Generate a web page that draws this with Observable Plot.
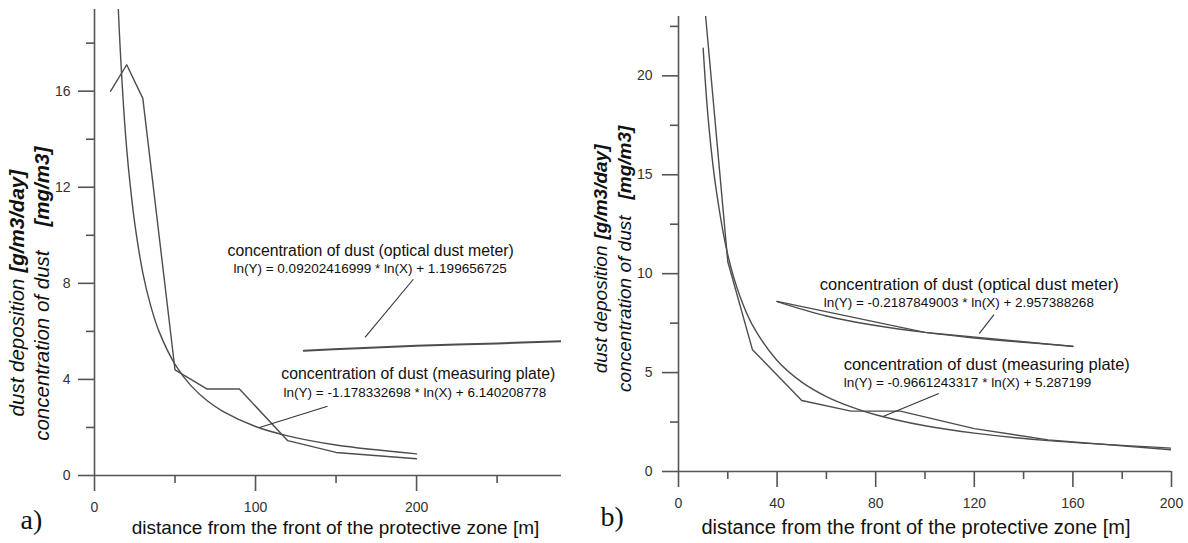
<!DOCTYPE html>
<html><head><meta charset="utf-8">
<script src="https://cdn.jsdelivr.net/npm/d3@7"></script>
<script src="https://cdn.jsdelivr.net/npm/@observablehq/plot@0.6"></script>
<style>
body{margin:0;background:#fff;}
#wrap{position:relative;width:1188px;height:543px;overflow:hidden;background:#fff;}
.panel{position:absolute;top:0;width:594px;height:543px;}
</style></head><body>
<div id="wrap"><div id="pa" class="panel" style="left:0"></div><div id="pb" class="panel" style="left:594px"></div></div>
<script>
// ---------- Panel a) ----------
const distPlateA = [10, 20, 30, 50, 70, 90, 120, 150, 200];
const plateA = [16, 17.1, 15.7, 4.4, 3.6, 3.6, 1.45, 0.96, 0.7];
const distFitA = [13, 14, 15, 16, 18, 20, 22, 25, 30, 35, 40, 50, 60, 70, 80, 100, 120, 150, 200];
const fitA = [22.6, 20.7, 19.1, 17.7, 15.4, 13.6, 12.2, 10.5, 8.44, 7.04, 6.01, 4.63, 3.73, 3.11, 2.66, 2.04, 1.65, 1.27, 0.90];
const distOptA = [130, 160, 200, 250, 290];
const optA = [5.19, 5.29, 5.40, 5.50, 5.59];
const xMajorA = [0, 100, 200];
const xMinorA = [50, 150, 250];
const yMajorA = [0, 4, 8, 12, 16];
const yMinorA = [2, 6, 10, 14, 18];
const leaderA = [[168, 5.75, 198, 8.17], [102.5, 2.0, 144.7, 2.88]];
const titleTextA = ["concentration of dust (optical dust meter)", "concentration of dust (measuring plate)"];
const titleXA = [82.6, 116];
const titleYA = [9.33, 4.21];
const eqTextA = ["ln(Y) = 0.09202416999 * ln(X) + 1.199656725", "ln(Y) = -1.178332698 * ln(X) + 6.140208778"];
const eqXA = [86.3, 117.4];
const eqYA = [8.63, 3.46];

// ---------- Panel b) ----------
const distPlateB = [10, 20, 30, 50, 70, 90, 120, 150, 200];
const plateB = [24.4, 10.6, 6.16, 3.59, 3.05, 3.05, 2.17, 1.6, 1.1];
const distFitB = [10, 12, 15, 20, 25, 30, 40, 50, 60, 70, 80, 100, 120, 150, 200];
const fitB = [21.4, 17.9, 14.5, 10.95, 8.83, 7.4, 5.61, 4.52, 3.79, 3.27, 2.87, 2.31, 1.94, 1.56, 1.18];
const distOptB = [40, 100, 160];
const optB = [8.6, 7.03, 6.32];
const distOptFitB = [40, 60, 80, 100, 120, 140, 160];
const optFitB = [8.59, 7.86, 7.38, 7.03, 6.75, 6.53, 6.34];
const xMajorB = [0, 40, 80, 120, 160, 200];
const xMinorB = [20, 60, 100, 140, 180];
const yMajorB = [0, 5, 10, 15, 20];
const yMinorB = [2.5, 7.5, 12.5, 17.5, 22.5];
const leaderB = [[122, 6.97, 128, 7.93], [83, 2.78, 105.6, 3.94]];
const titleTextB = ["concentration of dust (optical dust meter)", "concentration of dust (measuring plate)"];
const titleXB = [57.3, 67];
const titleYB = [9.44, 5.40];
const eqTextB = ["ln(Y) = -0.2187849003 * ln(X) + 2.957388268", "ln(Y) = -0.9661243317 * ln(X) + 5.287199"];
const eqXB = [58.9, 67];
const eqYB = [8.54, 4.49];

const xTitle = "distance from the front of the protective zone [m]";
const yTitle1 = ["dust deposition", "[g/m3/day]"];
const yTitle2 = ["concentration of dust", "[mg/m3]"];

const FONT = "'Liberation Sans', Arial, sans-serif";
const AX = "#555";
const LN = "#4d4d4d";

const pts = (xs, ys) => xs.map((x, i) => ({x, y: ys[i]}));

function panel(c) {
  const lineMarks = c.series.map(s => Plot.line(pts(s.xs, s.ys), {
    x: "x", y: "y", curve: s.curve, clip: true, stroke: LN, strokeWidth: s.w
  }));
  const yt = (txt, anchor, dx, dy, bold) => Plot.text([txt], {
    frameAnchor: "left", rotate: -90, textAnchor: anchor, lineAnchor: "middle",
    dx, dy, fontStyle: "italic", fontWeight: bold ? "bold" : "normal", fontSize: c.ytSize, fill: "#111"
  });
  return Plot.plot({
    width: 594, height: 543,
    marginLeft: c.ml, marginRight: c.mr, marginTop: c.mt, marginBottom: c.mb,
    x: {domain: c.xDomain, label: null},
    y: {domain: c.yDomain, label: null},
    style: {fontFamily: FONT, fontSize: "14px", color: "#333", background: "white", overflow: "visible"},
    marks: [
      Plot.ruleX([0], {stroke: AX, strokeWidth: 1.6}),
      Plot.ruleY([0], {stroke: AX, strokeWidth: 1.6}),
      Plot.axisY(c.yMajor, {tickSize: 16, tickPadding: c.yPad, stroke: AX, strokeWidth: 1.6, tickFormat: d => String(d), label: null, fontSize: 14}),
      Plot.axisY(c.yMinor, {tickSize: 8, stroke: AX, strokeWidth: 1.6, tickFormat: () => "", label: null}),
      Plot.axisX(c.xMajor, {tickSize: 16, tickPadding: 11, stroke: AX, strokeWidth: 1.6, tickFormat: d => String(d), label: null, fontSize: 14}),
      Plot.axisX(c.xMinor, {tickSize: 8, stroke: AX, strokeWidth: 1.6, tickFormat: () => "", label: null}),
      ...lineMarks,
      Plot.link(c.leaders, {x1: d => d[0], y1: d => d[1], x2: d => d[2], y2: d => d[3], stroke: "#333", strokeWidth: 1.1}),
      Plot.text(c.titleText, {x: (d, i) => c.titleX[i], y: (d, i) => c.titleY[i], text: d => d, textAnchor: "start", fontSize: c.titleSize, fill: "#111"}),
      Plot.text(c.eqText, {x: (d, i) => c.eqX[i], y: (d, i) => c.eqY[i], text: d => d, textAnchor: "start", fontSize: 13.5, fill: "#111"}),
      // y-axis titles (rotated, two lines)
      yt(yTitle1[0], "end", c.t1dx, c.t1dy, false),
      yt(yTitle1[1], "start", c.t1dx, c.t1dy - 6, true),
      yt(yTitle2[0], "end", c.t2dx, c.t2dy, false),
      yt(yTitle2[1], "start", c.t2dx, c.t2dy - c.gap2, true),
      // x-axis title
      Plot.text([xTitle], {frameAnchor: "bottom", lineAnchor: "middle", dx: c.xtdx, dy: c.xtdy, fontSize: c.xtSize, fill: "#111"}),
      // panel letter
      Plot.text([c.letter], {frameAnchor: "bottom-left", textAnchor: "start", lineAnchor: "middle", dx: c.ldx, dy: c.ldy, fontFamily: "'Liberation Serif', 'Times New Roman', serif", fontSize: 28, fill: "#111"})
    ]
  });
}

document.getElementById("pa").appendChild(panel({
  ml: 94, mr: 33, mt: 9, mb: 68,
  xDomain: [0, 290], yDomain: [0, 19.4],
  xMajor: xMajorA, xMinor: xMinorA, yMajor: yMajorA, yMinor: yMinorA, yPad: 8,
  series: [
    {xs: distPlateA, ys: plateA, curve: "linear", w: 1.4},
    {xs: distFitA, ys: fitA, curve: "catmull-rom", w: 1.4},
    {xs: distOptA, ys: optA, curve: "catmull-rom", w: 2}
  ],
  leaders: leaderA,
  titleText: titleTextA, titleX: titleXA, titleY: titleYA, titleSize: 15.8,
  eqText: eqTextA, eqX: eqXA, eqY: eqYA,
  ytSize: 20.5, t1dx: -77, t1dy: 36, t2dx: -52, t2dy: 8, gap2: 24,
  xtdx: 7.5, xtdy: 52, xtSize: 19,
  letter: "a)", ldx: -74, ldy: 45
}));

document.getElementById("pb").appendChild(panel({
  ml: 84, mr: 17, mt: 16, mb: 72,
  xDomain: [0, 200], yDomain: [0, 23],
  xMajor: xMajorB, xMinor: xMinorB, yMajor: yMajorB, yMinor: yMinorB, yPad: 10,
  series: [
    {xs: distPlateB, ys: plateB, curve: "linear", w: 1.4},
    {xs: distFitB, ys: fitB, curve: "catmull-rom", w: 1.4},
    {xs: distOptB, ys: optB, curve: "linear", w: 1.4},
    {xs: distOptFitB, ys: optFitB, curve: "catmull-rom", w: 1.4}
  ],
  leaders: leaderB,
  titleText: titleTextB, titleX: titleXB, titleY: titleYB, titleSize: 16.5,
  eqText: eqTextB, eqX: eqXB, eqY: eqYB,
  ytSize: 19, t1dx: -78, t1dy: 1.5, t2dx: -54, t2dy: -28.5, gap2: 16,
  xtdx: -9, xtdy: 56, xtSize: 20,
  letter: "b)", ldx: -78, ldy: 46
}));
</script>
</body></html>
